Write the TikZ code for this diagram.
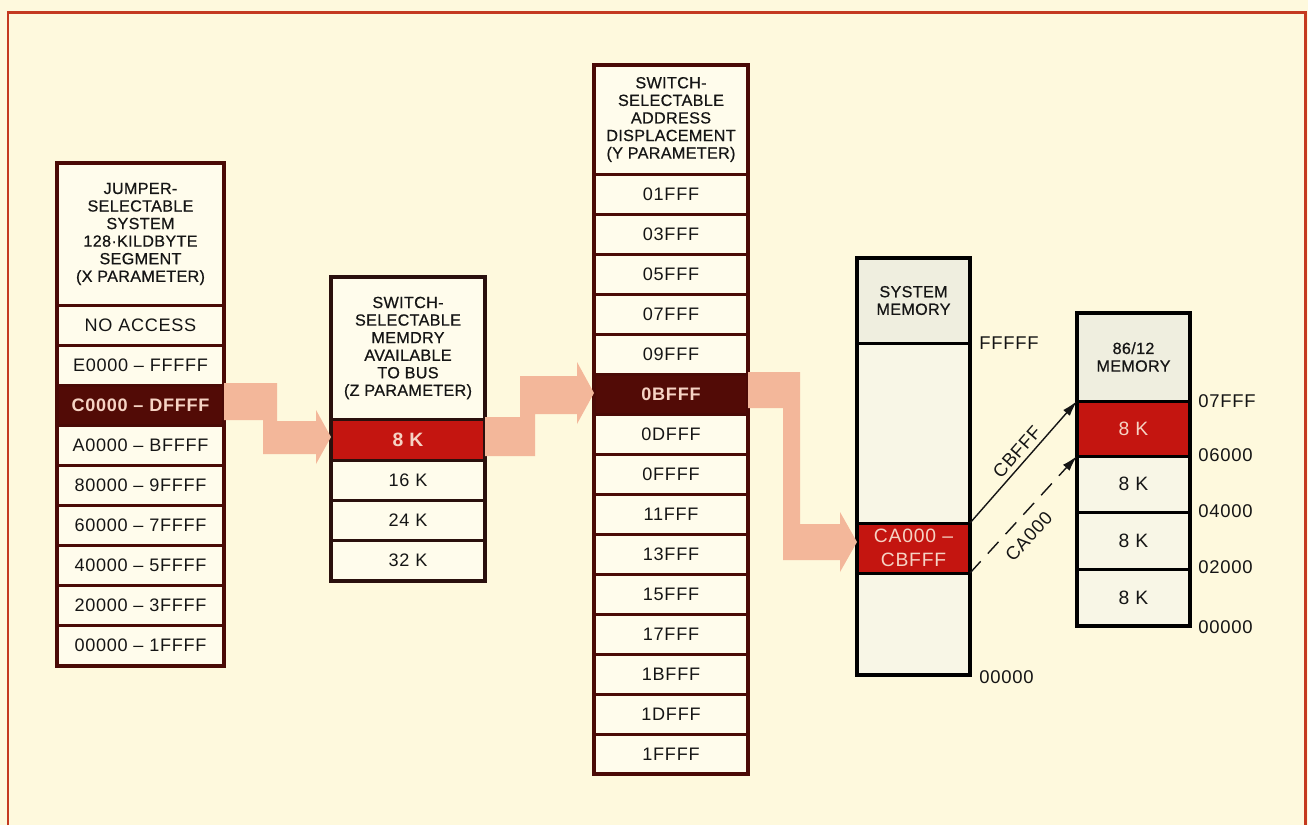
\documentclass[tikz,border=0pt]{standalone}
\usepackage{fontspec}
\setmainfont{Liberation Sans}
\newfontfamily\lsrow[LetterSpace=4]{Liberation Sans}
\newfontfamily\lshdr[LetterSpace=2,FakeBold=0.6]{Liberation Sans}
\usetikzlibrary{arrows.meta}
\definecolor{bg}{HTML}{FEF9DD}
\definecolor{cellfill}{HTML}{FFFCEC}
\definecolor{maroon}{HTML}{4A0A06}
\definecolor{darkcell}{HTML}{520B06}
\definecolor{zframe}{HTML}{2A100D}
\definecolor{redcell}{HTML}{C41510}
\definecolor{pinktext}{HTML}{F6D3C4}
\definecolor{arrowpink}{HTML}{F3B79A}
\definecolor{framered}{HTML}{C43A20}
\definecolor{ink}{HTML}{151515}
\definecolor{memfill}{HTML}{F8F6E6}
\definecolor{memhdrfill}{HTML}{EFEEDF}
\newcommand\cellbox[7]{%
  \pgfmathsetmacro\cbw{(#4-#2)*0.02}%
  \pgfmathsetmacro\cbh{(#5-#3)*0.02}%
  \node[#6, minimum width=\cbw cm, minimum height=\cbh cm] (#1) at ({(#2+#4)/2},{(#3+#5)/2}) {#7};}
\tikzset{
  cell/.style={draw=maroon, line width=0.06cm, fill=cellfill, inner sep=0pt, outer sep=0pt,
    align=center, text=ink, font=\lsrow\fontsize{10.3}{12}\selectfont},
  hdr/.style={cell, font=\lshdr\fontsize{9.2}{10}\selectfont},
  darkc/.style={cell, fill=darkcell, text=pinktext, font=\lsrow\bfseries\fontsize{10.3}{12}\selectfont},
  zc/.style={cell, draw=zframe},
  zhdr/.style={hdr, draw=zframe},
  zred/.style={zc, fill=redcell, text=pinktext, font=\lsrow\bfseries\fontsize{11}{12}\selectfont},
  mem/.style={cell, draw=black, fill=memfill},
  memhdr/.style={hdr, draw=black, fill=memhdrfill},
  memred/.style={mem, fill=redcell, text=pinktext, font=\lsrow\fontsize{11}{13.5}\selectfont},
  memk/.style={mem, font=\lsrow\fontsize{11}{12}\selectfont},
  outerM/.style={draw=maroon, line width=0.09cm},
  outerB/.style={draw=black, line width=0.08cm},
  lbl/.style={anchor=west, inner sep=0pt, text=ink, font=\lsrow\fontsize{10.5}{12}\selectfont},
  pinkarrow/.style={fill=arrowpink, draw=none},
  addr/.style={line width=0.8pt, draw=ink, -{Latex[length=9pt,width=5pt]}},
  slab/.style={sloped, inner sep=3pt, text=ink, font=\lsrow\fontsize{10.5}{12}\selectfont}
}
\begin{document}
\begin{tikzpicture}[x=0.02cm,y=-0.02cm]
\path[fill=bg] (0,0) rectangle (1308,825);
\useasboundingbox (0,0) rectangle (1308,825);
\draw[framered, line width=0.06cm] (8,825) -- (8,12) -- (1305,12) -- (1305,825);

% ---- column 1 (X parameter)
\cellbox{x0}{57}{163}{224}{305}{hdr}{JUMPER-\\SELECTABLE\\SYSTEM\\128·KILDBYTE\\SEGMENT\\(X PARAMETER)}
\cellbox{x1}{57}{305}{224}{345}{cell}{NO ACCESS}
\cellbox{x2}{57}{345}{224}{385}{cell}{E0000 – FFFFF}
\cellbox{x3}{57}{385}{224}{425}{darkc}{C0000 – DFFFF}
\cellbox{x4}{57}{425}{224}{465}{cell}{A0000 – BFFFF}
\cellbox{x5}{57}{465}{224}{505}{cell}{80000 – 9FFFF}
\cellbox{x6}{57}{505}{224}{545}{cell}{60000 – 7FFFF}
\cellbox{x7}{57}{545}{224}{585}{cell}{40000 – 5FFFF}
\cellbox{x8}{57}{585}{224}{625}{cell}{20000 – 3FFFF}
\cellbox{x9}{57}{625}{224}{666}{cell}{00000 – 1FFFF}
\draw[outerM] (x0.north west) rectangle (x9.south east);

% ---- column 2 (Z parameter)
\cellbox{z0}{331}{277}{485}{419}{zhdr}{SWITCH-\\SELECTABLE\\MEMDRY\\AVAILABLE\\TO BUS\\(Z PARAMETER)}
\cellbox{z1}{331}{419}{485}{460}{zred}{8 K}
\cellbox{z2}{331}{460}{485}{500}{zc}{16 K}
\cellbox{z3}{331}{500}{485}{540}{zc}{24 K}
\cellbox{z4}{331}{540}{485}{581}{zc}{32 K}
\draw[outerM, draw=zframe] (z0.north west) rectangle (z4.south east);

% ---- column 3 (Y parameter)
\cellbox{y0}{594}{65}{748}{174}{hdr}{SWITCH-\\SELECTABLE\\ADDRESS\\DISPLACEMENT\\(Y PARAMETER)}
\cellbox{y1}{594}{174}{748}{214}{cell}{01FFF}
\cellbox{y2}{594}{214}{748}{254}{cell}{03FFF}
\cellbox{y3}{594}{254}{748}{294}{cell}{05FFF}
\cellbox{y4}{594}{294}{748}{334}{cell}{07FFF}
\cellbox{y5}{594}{334}{748}{374}{cell}{09FFF}
\cellbox{y6}{594}{374}{748}{414}{darkc}{0BFFF}
\cellbox{y7}{594}{414}{748}{454}{cell}{0DFFF}
\cellbox{y8}{594}{454}{748}{494}{cell}{0FFFF}
\cellbox{y9}{594}{494}{748}{534}{cell}{11FFF}
\cellbox{y10}{594}{534}{748}{574}{cell}{13FFF}
\cellbox{y11}{594}{574}{748}{614}{cell}{15FFF}
\cellbox{y12}{594}{614}{748}{654}{cell}{17FFF}
\cellbox{y13}{594}{654}{748}{694}{cell}{1BFFF}
\cellbox{y14}{594}{694}{748}{734}{cell}{1DFFF}
\cellbox{y15}{594}{734}{748}{774}{cell}{1FFFF}
\draw[outerM] (y0.north west) rectangle (y15.south east);

% ---- pink selection arrows
\fill[pinkarrow] (x3.east |- 0,383) -- (277,383) -- (277,421) -- (316,421) -- (316,410)
  -- (z1.west |- 0,437) -- (316,464) -- (316,454) -- (263,454) -- (263,420) -- (x3.east |- 0,420) -- cycle;
\fill[pinkarrow] (z1.east |- 0,417) -- (520,417) -- (520,376) -- (577,376) -- (577,362)
  -- (y6.west |- 0,393) -- (577,424) -- (577,414) -- (535,414) -- (535,456) -- (z1.east |- 0,456) -- cycle;

% ---- column 4 (system memory)
\cellbox{s0}{857}{258}{970}{343}{memhdr}{SYSTEM\\MEMORY}
\cellbox{s1}{857}{343}{970}{523}{mem}{}
\cellbox{ca}{857}{523}{970}{573}{memred}{CA000 –\\CBFFF}
\cellbox{s3}{857}{573}{970}{675}{mem}{}
\draw[outerB] (s0.north west) rectangle (s3.south east);

\fill[pinkarrow] (y6.east |- 0,372) -- (800,372) -- (800,524) -- (840,524) -- (840,512)
  -- (ca.west |- 0,542) -- (840,572) -- (840,560) -- (783,560) -- (783,408) -- (y6.east |- 0,408) -- cycle;

% ---- column 5 (86/12 memory)
\cellbox{m0}{1077}{313}{1190}{401}{memhdr}{86/12\\MEMORY}
\cellbox{m1}{1077}{401}{1190}{456}{memred}{8 K}
\cellbox{m2}{1077}{456}{1190}{512}{memk}{8 K}
\cellbox{m3}{1077}{512}{1190}{569}{memk}{8 K}
\cellbox{m4}{1077}{569}{1190}{626}{memk}{8 K}
\draw[outerB] (m0.north west) rectangle (m4.south east);

% ---- address labels
\node[lbl] (aF) at (979,343) {FFFFF};
\node[lbl] (a0) at (979,677) {00000};
\node[lbl] (b7) at (1198,401) {07FFF};
\node[lbl] (b6) at (1198,455) {06000};
\node[lbl] (b4) at (1198,511) {04000};
\node[lbl] (b2) at (1198,567) {02000};
\node[lbl] (b0) at (1198,627) {00000};

% ---- mapping connectors
\draw[addr] (ca.north east) -- node[slab, above, inner sep=2.5pt, pos=0.52] (lcb) {CBFFF} (m1.north west);
\draw[addr, dash pattern=on 9pt off 6pt] (ca.south east) -- node[slab, below, inner sep=6.5pt, pos=0.42] (lca) {CA000} (m1.south west);
\end{tikzpicture}
\end{document}
